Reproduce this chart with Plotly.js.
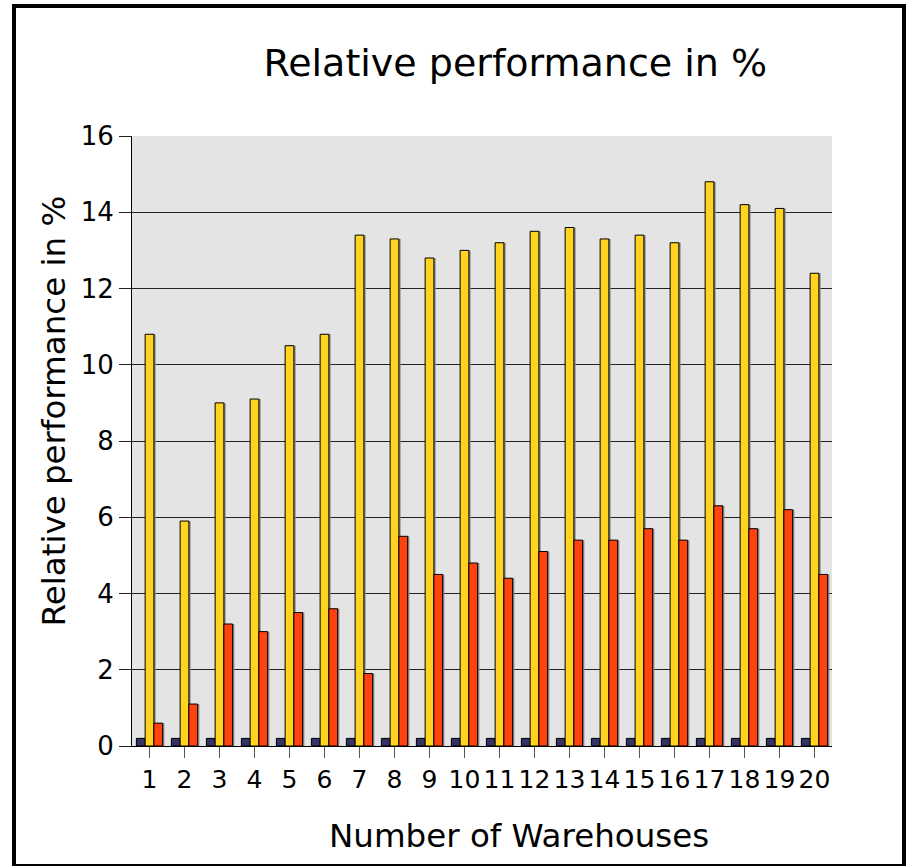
<!DOCTYPE html>
<html>
<head>
<meta charset="utf-8">
<script src="https://cdn.plot.ly/plotly-3.0.1.min.js"></script>
<style>
  html, body { margin: 0; padding: 0; background: #fff; }
  #chart { position: absolute; left: 0; top: 0; width: 912px; height: 866px; }
  #frame {
    position: absolute; left: 12px; top: 4px; width: 894px; height: 864px;
    box-sizing: border-box; border: 4px solid #000; pointer-events: none;
  }
</style>
</head>
<body>
<div id="chart"></div>
<div id="frame"></div>
<script>
// Warehouse counts on the x axis
const warehouses = ['1','2','3','4','5','6','7','8','9','10',
                    '11','12','13','14','15','16','17','18','19','20'];

// Relative performance (%) per series
const seriesA = [0.2,0.2,0.2,0.2,0.2,0.2,0.2,0.2,0.2,0.2,
                 0.2,0.2,0.2,0.2,0.2,0.2,0.2,0.2,0.2,0.2];
const seriesB = [10.8,5.9,9.0,9.1,10.5,10.8,13.4,13.3,12.8,13.0,
                 13.2,13.5,13.6,13.3,13.4,13.2,14.8,14.2,14.1,12.4];
const seriesC = [0.6,1.1,3.2,3.0,3.5,3.6,1.9,5.5,4.5,4.8,
                 4.4,5.1,5.4,5.4,5.7,5.4,6.3,5.7,6.2,4.5];

const yTicks = [0,2,4,6,8,10,12,14,16];

const FONT = 'DejaVu Sans, Verdana, sans-serif';
const BAR_W = 0.25;
const SHADOW_SHIFT = 0.05;

const series = [
  {name: 'A', y: seriesA, color: '#333366', offset: -0.375},
  {name: 'B', y: seriesB, color: '#ffd320', offset: -0.125},
  {name: 'C', y: seriesC, color: '#ff420e', offset: 0.125}
];

const traces = [];
// soft drop shadows behind each bar
series.forEach(s => {
  traces.push({
    type: 'bar', x: warehouses, y: s.y, name: s.name + ' shadow',
    width: BAR_W, offset: s.offset + SHADOW_SHIFT,
    marker: {color: '#8a8a8a', line: {width: 0}},
    hoverinfo: 'skip', showlegend: false
  });
});
series.forEach(s => {
  traces.push({
    type: 'bar', x: warehouses, y: s.y, name: s.name,
    width: BAR_W, offset: s.offset,
    marker: {color: s.color, line: {color: '#000', width: 1}},
    showlegend: false
  });
});

const layout = {
  width: 912, height: 866,
  margin: {l: 132, r: 80, t: 136, b: 120, pad: 0},
  paper_bgcolor: '#fff',
  plot_bgcolor: '#e4e4e4',
  barmode: 'overlay',
  font: {family: FONT, color: '#000'},
  showlegend: false,
  title: {
    text: 'Relative performance in %',
    font: {family: FONT, size: 38, color: '#000'},
    x: 0.565, xref: 'container', xanchor: 'center',
    y: 0.928, yref: 'container', yanchor: 'middle'
  },
  xaxis: {
    type: 'category',
    tickangle: 0,
    ticks: 'outside', ticklen: 11, tickcolor: '#555', tickwidth: 1,
    showline: true, linecolor: '#000', linewidth: 1,
    showgrid: false, zeroline: false,
    tickfont: {family: FONT, size: 25, color: '#000'}
  },
  yaxis: {
    range: [0, 16], tickvals: yTicks, ticktext: yTicks.map(String),
    ticks: 'outside', ticklen: 12, tickcolor: '#222', tickwidth: 1,
    showline: true, linecolor: '#000', linewidth: 1,
    showgrid: true, gridcolor: '#222', gridwidth: 1,
    zeroline: false,
    tickfont: {family: FONT, size: 26, color: '#000'}
  },
  annotations: [
    {
      text: 'Number of Warehouses', showarrow: false,
      xref: 'paper', yref: 'paper', x: 0.553, y: -0.147,
      xanchor: 'center', yanchor: 'middle',
      font: {family: FONT, size: 32.5, color: '#000'}
    },
    {
      text: 'Relative performance in %', showarrow: false, textangle: -90,
      xref: 'paper', yref: 'paper', x: -0.111, y: 0.549,
      xanchor: 'center', yanchor: 'middle',
      font: {family: FONT, size: 32.5, color: '#000'}
    }
  ]
};

Plotly.newPlot('chart', traces, layout, {staticPlot: true, displayModeBar: false});
</script>
</body>
</html>
